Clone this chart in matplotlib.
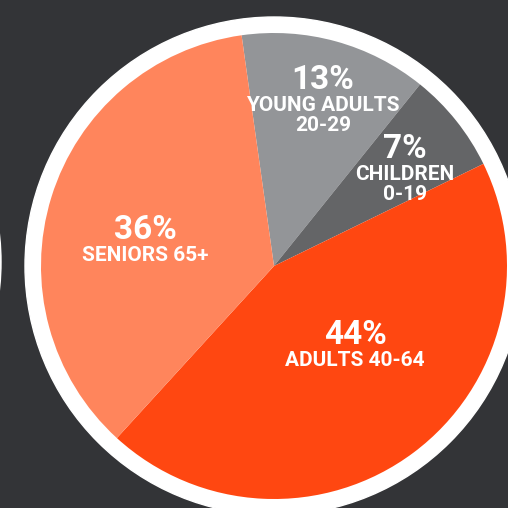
import matplotlib
matplotlib.use('Agg')
import matplotlib.pyplot as plt
from matplotlib.patches import Circle

# Data (clockwise from the top)
groups = ['YOUNG ADULTS\n20-29', 'CHILDREN\n0-19', 'ADULTS 40-64', 'SENIORS 65+']
shares = [13, 7, 44, 36]
colors = ['#939598', '#646567', '#ff4711', '#ff855c']

# Layout (pixels, y measured from the top of the image)
W, H = 508, 508
bg = '#333437'
center_px = (274, 266)
r_pie = 233
r_ring = 249
label_pos = [(323, 89), (405, 158), (355, 344), (145, 239)]  # baseline of the % line

plt.rcParams['font.family'] = ['Roboto', 'DejaVu Sans']

fig = plt.figure(figsize=(W / 100, H / 100), dpi=100, facecolor=bg)
ax = fig.add_axes([0, 0, 1, 1])
ax.set_facecolor(bg)

cx, cy = center_px[0], H - center_px[1]

# white ring behind the pie, plus the edge of the neighbouring pie on the left
ax.add_patch(Circle((cx, cy), r_ring, color='white', zorder=0))
ax.add_patch(Circle((-248, H - 262), r_ring, color='white', zorder=0))

ax.pie(shares, colors=colors, startangle=98, counterclock=False,
       radius=r_pie, center=(cx, cy),
       wedgeprops=dict(linewidth=0, antialiased=True))

for (x, y), pct, name in zip(label_pos, shares, groups):
    ax.text(x, H - y, f'{pct}%', color='white', fontsize=24, fontweight='bold',
            ha='center', va='baseline')
    for i, line in enumerate(name.split('\n')):
        ax.text(x, H - (y + 22 + 20 * i), line, color='white', fontsize=15,
                fontweight='bold', ha='center', va='baseline')

ax.set_xlim(0, W)
ax.set_ylim(0, H)
ax.set_aspect('equal')
ax.axis('off')

fig.savefig('out.png', dpi=100, facecolor=bg)
